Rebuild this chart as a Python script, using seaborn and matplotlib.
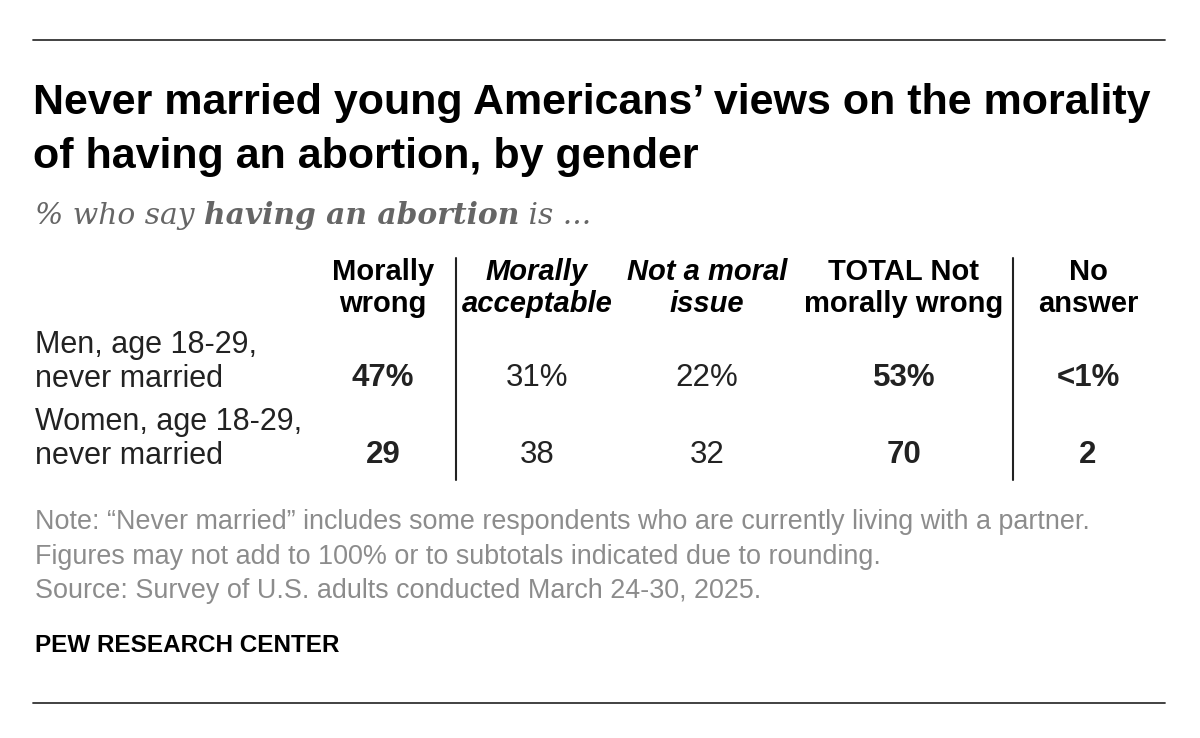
import matplotlib
matplotlib.use("Agg")
import matplotlib.pyplot as plt
import seaborn as sns
import pandas as pd

# table content
groups = ["Men, age 18-29,\nnever married", "Women, age 18-29,\nnever married"]
columns = ["Morally\nwrong", "Morally\nacceptable", "Not a moral\nissue",
           "TOTAL Not\nmorally wrong", "No\nanswer"]
col_italic = [False, True, True, False, False]
col_bold_vals = [True, False, False, True, True]
morally_wrong = ["47%", "29"]
morally_acceptable = ["31%", "38"]
not_moral_issue = ["22%", "32"]
total_not_wrong = ["53%", "70"]
no_answer = ["<1%", "2"]

title = "Never married young Americans\u2019 views on the morality\nof having an abortion, by gender"
notes = ["Note: \u201cNever married\u201d includes some respondents who are currently living with a partner.",
         "Figures may not add to 100% or to subtotals indicated due to rounding.",
         "Source: Survey of U.S. adults conducted March 24-30, 2025."]

df = pd.DataFrame({
    "group": groups,
    columns[0]: morally_wrong,
    columns[1]: morally_acceptable,
    columns[2]: not_moral_issue,
    columns[3]: total_not_wrong,
    columns[4]: no_answer,
})

sns.set_theme(style="white")
plt.rcParams["font.family"] = ["Liberation Sans", "DejaVu Sans"]

fig = plt.figure(figsize=(12, 7.38), dpi=100)
ax = fig.add_axes([0, 0, 1, 1])
ax.set_xlim(0, 1200)
ax.set_ylim(738, 0)
ax.axis("off")

# rules
ax.plot([33, 1165], [40, 40], color="#333333", lw=1.3)
ax.plot([33, 1165], [703, 703], color="#333333", lw=1.3)

# title
ax.text(33, 130, title, fontsize=31, fontweight="bold", color="black",
        va="center", ha="left", linespacing=1.43)

# subtitle in pieces
sub_parts = [("% who say ", "normal"), ("having an abortion", "bold"), (" is ...", "normal")]
fig.canvas.draw()
r = fig.canvas.get_renderer()
x = 35
for txt, w in sub_parts:
    t = ax.text(x, 216, txt, fontsize=21.4, fontstyle="italic", fontweight=w,
                family=["DejaVu Serif"], color="#666666",
                va="center", ha="left")
    x += t.get_window_extent(renderer=r).width

# column headers and values
col_x = [383, 537, 707, 904, 1088]
row_y = [378, 455]
for j, col in enumerate(columns):
    ax.text(col_x[j], 288, col, ha="center", va="center", fontsize=21,
            fontweight="bold", fontstyle="italic" if col_italic[j] else "normal",
            color="black", linespacing=1.16)
    for i in range(len(df)):
        ax.text(col_x[j], row_y[i], df[col].iloc[i], ha="center", va="center",
                fontsize=22.5, fontweight="bold" if col_bold_vals[j] else "normal",
                color="#222222")

for i, g in enumerate(df["group"]):
    ax.text(35, row_y[i] - 16, g, ha="left", va="center", fontsize=22,
            color="#222222", linespacing=1.19)

# separators
for xv in [456, 1013]:
    ax.plot([xv, xv], [258, 480], color="#222222", lw=1.5)

# notes
for k, n in enumerate(notes):
    ax.text(35, 522 + k * 34.5, n, ha="left", va="center", fontsize=19.4,
            color="#8c8c8c")

ax.text(35, 645, "PEW RESEARCH CENTER", ha="left", va="center",
        fontsize=17.5, fontweight="bold", color="black")

fig.savefig("out.png", dpi=100)
